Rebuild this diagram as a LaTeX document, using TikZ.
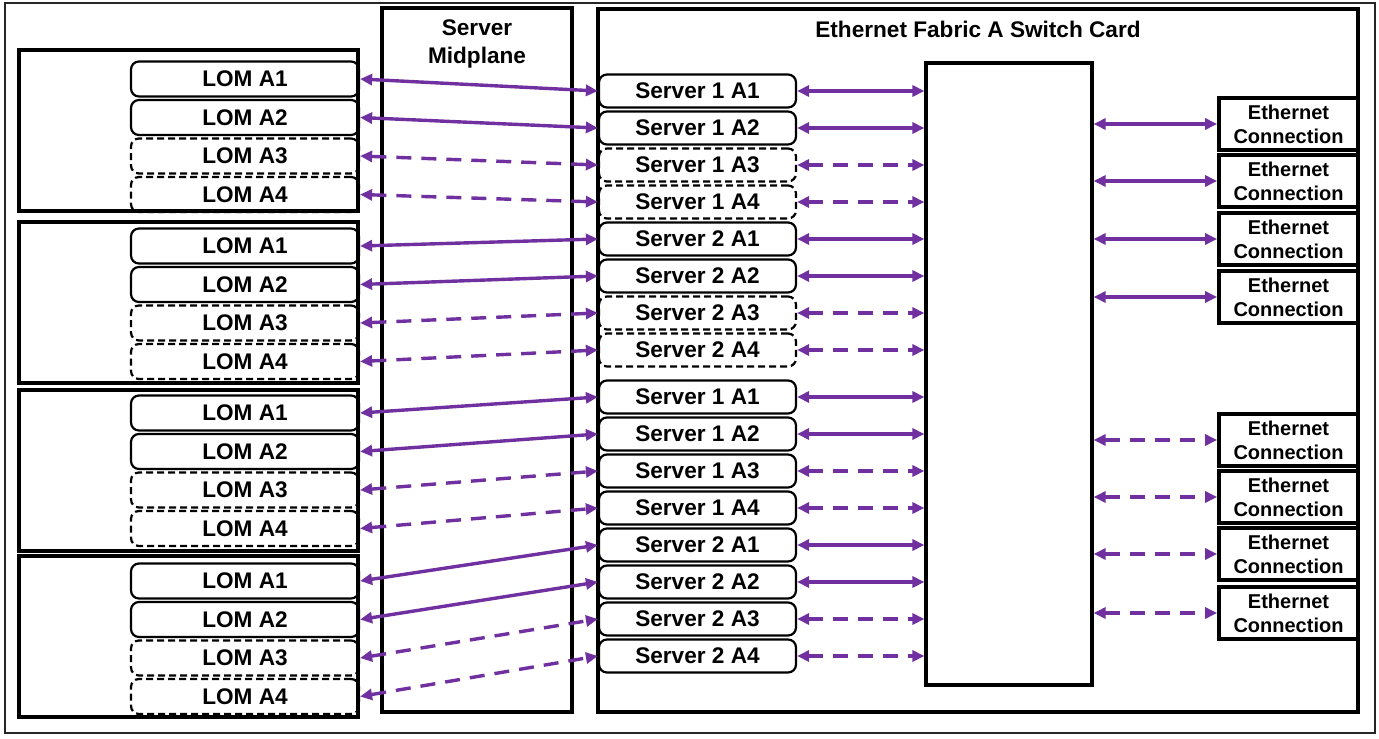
\documentclass[tikz,border=0pt]{standalone}
\usepackage{fontspec}
\setmainfont{Liberation Sans}
\usepackage{xcolor}
\usetikzlibrary{arrows.meta,positioning}
\definecolor{linkpurple}{HTML}{7030A0}

\begin{document}
\begin{tikzpicture}[
    x=0.5pt, y=-0.5pt,
    frame/.style={draw, line width=1.8pt},
    port/.style={draw, rounded corners=4pt, line width=1.1pt, inner sep=0pt,
        font=\fontsize{11.3}{13}\selectfont\bfseries},
    lomport/.style={port, minimum width=114pt, minimum height=17.5pt},
    srvport/.style={port, minimum width=98.5pt, minimum height=16.5pt},
    spare/.style={dash pattern=on 3.5pt off 2pt},
    plain/.style={},
    ethbox/.style={draw, line width=1.9pt, minimum width=69.5pt, minimum height=26pt,
        inner sep=0pt, align=center, font=\fontsize{10}{12}\selectfont\bfseries},
    title/.style={align=center, font=\fontsize{11.3}{14}\selectfont\bfseries},
    link/.style={draw=linkpurple, line width=1.7pt,
        {Triangle[length=6pt,width=5.5pt]}-{Triangle[length=6pt,width=5.5pt]}},
    sparelink/.style={link, dash pattern=on 7.5pt off 5pt}]
\useasboundingbox (0,0) rectangle (1379,738);
\draw[line width=1pt, black!85] (5,3) rectangle (1375,733);

\foreach \b/\top/\first in {1/50/79, 2/222/246, 3/390/413, 4/556/581}{
    \draw[frame] (19,\top) rectangle (358,\top+161);
    \foreach \k in {1,...,4}{
        \ifnum\k>2 \def\st{spare}\else\def\st{plain}\fi
        \node[lomport, \st] (lom-\b-\k) at (245,\first+38.5*\k-38.5) {LOM A\k};
    }
}

\draw[frame] (382,8) rectangle (572,712);
\node[title] (midtitle) at (477,44) {Server\\Midplane};

\draw[frame] (598,9) rectangle (1358,712);
\node[title] (cardtitle) at (978,29) {Ethernet Fabric A Switch Card};
\node[draw, line width=1.6pt, minimum width=83pt, minimum height=311pt, inner sep=0pt]
    (switch) at (1009,374) {};

\foreach \g/\y/\opt in {1/91/spare, 2/397/plain}{
    \foreach \s in {1,2}{
        \foreach \k in {1,...,4}{
            \ifnum\k>2 \def\st{\opt}\def\ln{sparelink}\else\def\st{plain}\def\ln{link}\fi
            \node[srvport, \st] (srv-\g-\s-\k) at (697.5,\y+148*\s-148+37*\k-37) {Server \s\ A\k};
            \draw[\ln] (srv-\g-\s-\k.east) -- (switch.west |- srv-\g-\s-\k.east);
        }
    }
}

\foreach \b/\g/\s in {1/1/1, 2/1/2, 3/2/1, 4/2/2}{
    \foreach \k in {1,...,4}{
        \ifnum\k>2 \def\ln{sparelink}\else\def\ln{link}\fi
        \draw[\ln] (lom-\b-\k.east) -- (srv-\g-\s-\k.west);
    }
}

\foreach \e/\y in {1/124, 2/181, 3/239, 4/297, 5/440, 6/497, 7/554, 8/613}{
    \ifnum\e>4 \def\ln{sparelink}\else\def\ln{link}\fi
    \node[ethbox] (eth-\e) at (1288.5,\y) {Ethernet\\Connection};
    \draw[\ln] (switch.east |- eth-\e.west) -- (eth-\e.west);
}
\end{tikzpicture}
\end{document}
